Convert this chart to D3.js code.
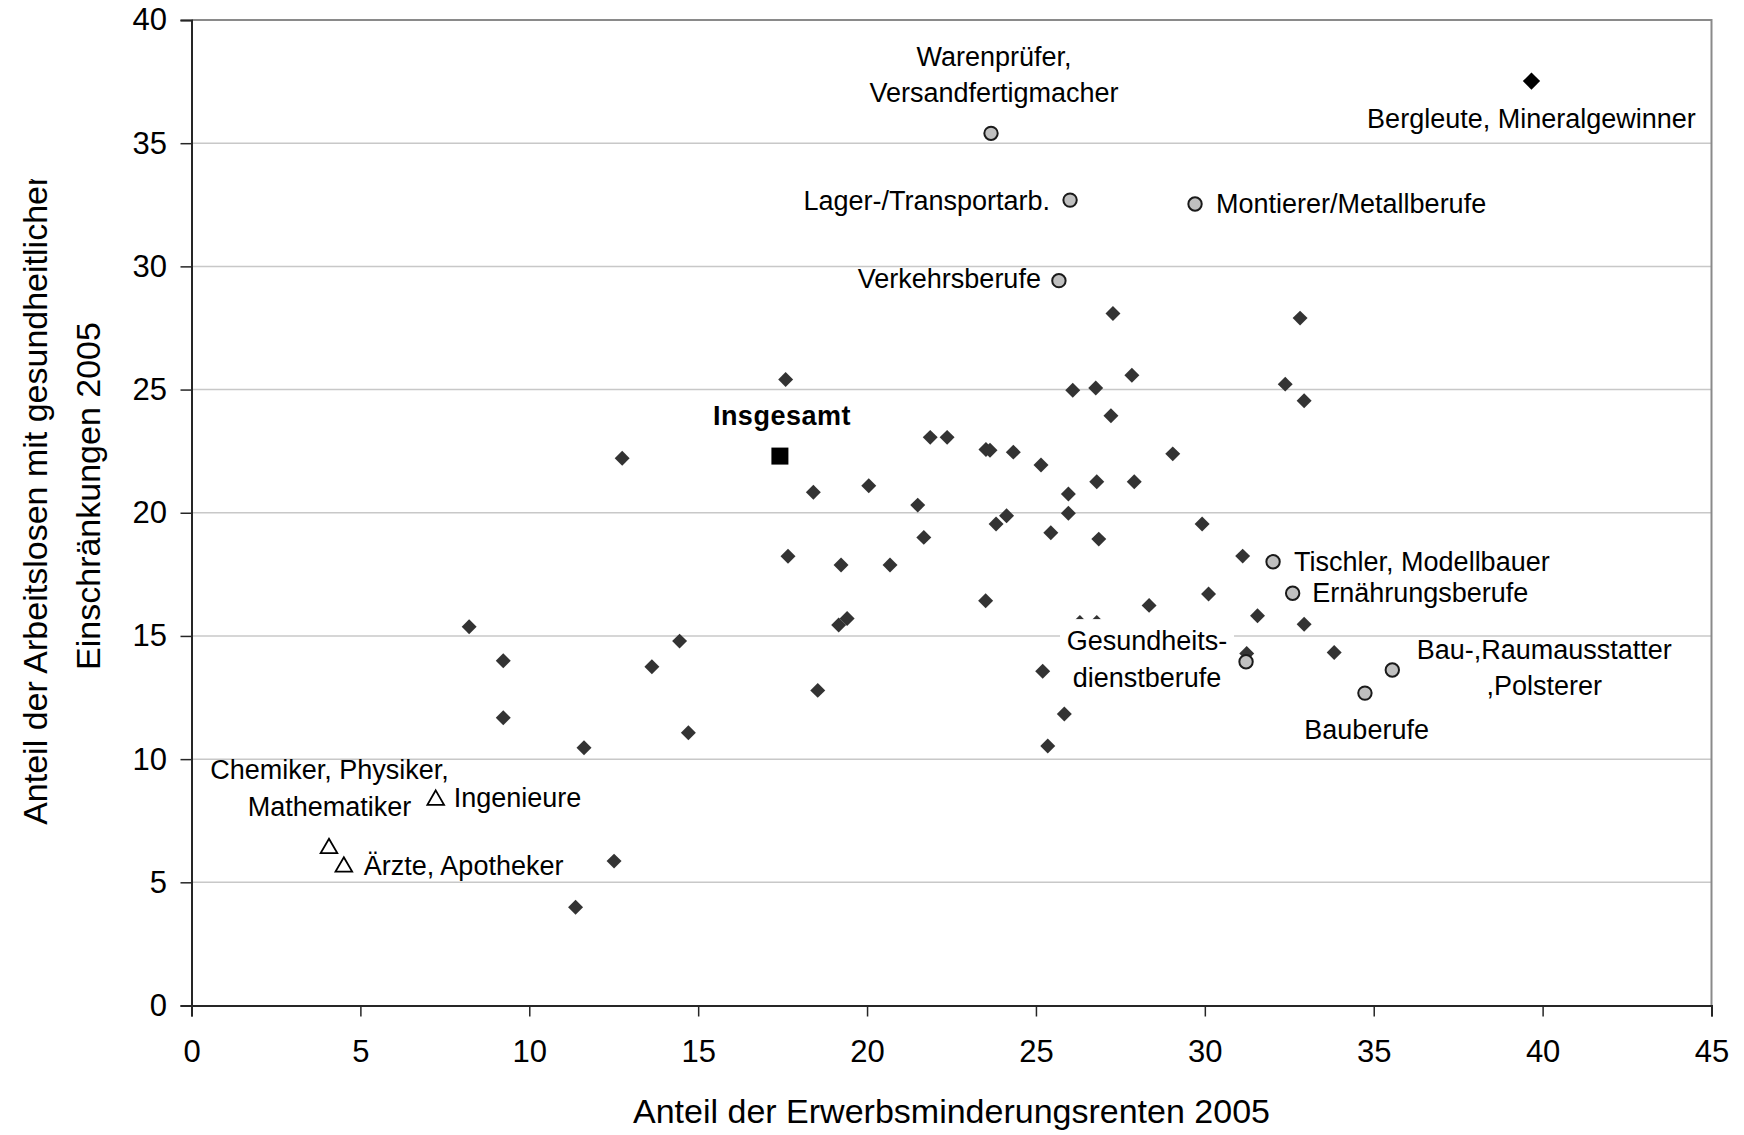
<!DOCTYPE html>
<html>
<head>
<meta charset="utf-8">
<script src="https://cdn.jsdelivr.net/npm/d3@7"></script>
<style>
body { margin: 0; background: #fff; }
text { font-family: "Liberation Sans", Arial, sans-serif; }
</style>
</head>
<body>
<script>
// Berufsgruppen ohne Beschriftung: [Erwerbsminderungsrenten, AL mit gesundh. Einschr.]
var berufe = [
  [8.22,15.37],[9.23,13.99],[9.23,11.68],[11.62,10.46],[11.37,3.99],[12.51,5.86],
  [12.75,22.21],[13.63,13.75],[14.45,14.79],[14.71,11.07],[17.59,25.41],[17.66,18.23],
  [18.41,20.83],[18.54,12.79],[19.16,15.44],[19.41,15.71],[19.23,17.88],[20.05,21.1],
  [20.68,17.88],[21.5,20.31],[21.68,19.0],[21.87,23.06],[22.37,23.06],[23.51,16.43],
  [23.52,22.57],[23.64,22.54],[23.82,19.54],[24.13,19.88],[24.33,22.46],[25.15,21.94],
  [25.44,19.19],[25.2,13.57],[25.35,10.53],[25.84,11.83],[25.96,20.76],[25.96,19.98],
  [26.09,24.97],[26.3,15.55],[26.8,15.55],[26.77,25.06],[26.8,21.26],[26.86,18.93],
  [27.22,23.94],[27.28,28.09],[27.84,25.58],[27.91,21.26],[28.35,16.24],[29.05,22.39],
  [29.92,19.54],[30.11,16.7],[31.12,18.24],[31.24,14.29],[31.56,15.82],[32.38,25.22],
  [32.82,27.9],[32.94,24.55],[32.94,15.47],[33.83,14.33]
];

// hervorgehobene Berufe mit hoher Belastung (Kreise)
var kreisNamen = [
  ["Warenprüfer,", "Versandfertigmacher"], ["Lager-/Transportarb."], ["Montierer/Metallberufe"],
  ["Verkehrsberufe"], ["Tischler, Modellbauer"], ["Ernährungsberufe"],
  ["Gesundheits-", "dienstberufe"], ["Bau-,Raumausstatter", ",Polsterer"], ["Bauberufe"]
];
var kreisX = [23.67, 26.01, 29.71, 25.68, 32.02, 32.6, 31.22, 35.55, 34.74];
var kreisY = [35.4, 32.69, 32.53, 29.42, 18.01, 16.73, 13.95, 13.62, 12.68];

// akademische Berufe (Dreiecke)
var dreieckNamen = [["Chemiker, Physiker,", "Mathematiker"], ["Ingenieure"], ["Ärzte, Apotheker"]];
var dreieckX = [4.07, 7.23, 4.51];
var dreieckY = [6.38, 8.34, 5.63];

var insgesamt = [17.42, 22.3];
var bergleute = [39.67, 37.52];

var xTicks = [0, 5, 10, 15, 20, 25, 30, 35, 40, 45];
var yTicks = [0, 5, 10, 15, 20, 25, 30, 35, 40];

// Beschriftungs-Layout (Pixelversatz zum Punkt)
var kreisLayout = [
  {anchor: "middle", dx: 3, dy: [-67.3, -31.6]},
  {anchor: "end", dx: -20, dy: [10]},
  {anchor: "start", dx: 21, dy: [8.7]},
  {anchor: "end", dx: -18, dy: [7.6]},
  {anchor: "start", dx: 21, dy: [9]},
  {anchor: "start", dx: 19.5, dy: [8.4]},
  {anchor: "middle", dx: -99, dy: [-11.7, 25.3], box: true},
  {anchor: "middle", dx: 152, dy: [-10.7, 25]},
  {anchor: "middle", dx: 1.7, dy: [46]}
];
var dreieckLayout = [
  {anchor: "middle", dx: 0.5, dy: [-69, -32.3]},
  {anchor: "start", dx: 18, dy: [7.3]},
  {anchor: "start", dx: 20, dy: [8.3]}
];

var width = 1744,
    height = 1135;

var svg = d3.select("body").append("svg")
    .attr("width", width)
    .attr("height", height)
    .style("display", "block");

var x = d3.scaleLinear().domain([0, 45]).range([191.5, 1711.5]);
var y = d3.scaleLinear().domain([0, 40]).range([1005.5, 20]);

// Gitterlinien
svg.append("g")
  .selectAll("line")
  .data(yTicks.filter(function(d) { return d > 0 && d < 40; }))
  .enter().append("line")
    .attr("x1", x(0)).attr("x2", x(45))
    .attr("y1", function(d) { return y(d); })
    .attr("y2", function(d) { return y(d); })
    .attr("stroke", "#c8c8c8")
    .attr("stroke-width", 1.5);

// Rahmen oben und rechts
svg.append("path")
  .attr("d", "M" + x(0) + "," + y(40) + "H" + x(45) + "V" + y(0))
  .attr("fill", "none")
  .attr("stroke", "#8a8a8a")
  .attr("stroke-width", 2);

var yAxis = svg.append("g")
  .attr("transform", "translate(" + x(0) + ",0)")
  .call(d3.axisLeft(y).tickValues(yTicks).tickSize(11).tickPadding(13.5));

var xAxis = svg.append("g")
  .attr("transform", "translate(0," + y(0) + ")")
  .call(d3.axisBottom(x).tickValues(xTicks).tickSize(11).tickPadding(23));

[xAxis, yAxis].forEach(function(a) {
  a.select(".domain").attr("stroke", "#262626").attr("stroke-width", 2);
  a.selectAll(".tick line").attr("stroke", "#262626").attr("stroke-width", 1.5);
  a.selectAll(".tick text")
    .attr("fill", "#000")
    .style("font-size", "31px")
    .style("font-family", "'Liberation Sans', Arial, sans-serif");
});

// Achsentitel
svg.append("text")
  .attr("x", (x(0) + x(45)) / 2)
  .attr("y", 1123)
  .attr("text-anchor", "middle")
  .style("font-size", "34px")
  .text("Anteil der Erwerbsminderungsrenten 2005");

svg.append("clipPath").attr("id", "ytitleclip")
  .append("rect").attr("x", 0).attr("y", 179).attr("width", 190).attr("height", 960);

var yTitle = svg.append("g")
  .attr("clip-path", "url(#ytitleclip)")
  .append("text")
  .attr("transform", "translate(0,496) rotate(-90)")
  .attr("text-anchor", "middle")
  .style("font-size", "34px");
yTitle.append("tspan").attr("x", 0).attr("y", 47).text("Anteil der Arbeitslosen mit gesundheitlichen");
yTitle.append("tspan").attr("x", 0).attr("y", 100).text("Einschränkungen 2005");

// Rauten
svg.append("g")
  .selectAll("path")
  .data(berufe)
  .enter().append("path")
    .attr("d", d3.symbol(d3.symbolSquare, 112))
    .attr("transform", function(d) { return "translate(" + x(d[0]) + "," + y(d[1]) + ") rotate(45)"; })
    .attr("fill", "#333");

svg.append("path")
  .attr("d", d3.symbol(d3.symbolSquare, 150))
  .attr("transform", "translate(" + x(bergleute[0]) + "," + y(bergleute[1]) + ") rotate(45)")
  .attr("fill", "#000");

svg.append("path")
  .attr("d", d3.symbol(d3.symbolSquare, 289))
  .attr("transform", "translate(" + x(insgesamt[0]) + "," + y(insgesamt[1]) + ")")
  .attr("fill", "#000");

// Dreiecke
svg.append("g")
  .selectAll("path")
  .data(dreieckX)
  .enter().append("path")
    .attr("d", d3.symbol(d3.symbolTriangle, 120))
    .attr("transform", function(d, i) { return "translate(" + x(d) + "," + y(dreieckY[i]) + ")"; })
    .attr("fill", "#fff")
    .attr("stroke", "#000")
    .attr("stroke-width", 1.8);

// Kreise
svg.append("g")
  .selectAll("circle")
  .data(kreisX)
  .enter().append("circle")
    .attr("cx", function(d) { return x(d); })
    .attr("cy", function(d, i) { return y(kreisY[i]); })
    .attr("r", 6.7)
    .attr("fill", "#c0c0c0")
    .attr("stroke", "#1a1a1a")
    .attr("stroke-width", 2);

function addLabel(px, py, lines, lay) {
  var cx = px + lay.dx;
  if (lay.box) {
    svg.append("rect")
      .attr("x", cx - 87).attr("y", py + lay.dy[0] - 31)
      .attr("width", 174).attr("height", 80)
      .attr("fill", "#fff");
  }
  var t = svg.append("text")
    .attr("text-anchor", lay.anchor)
    .style("font-size", "27px")
    .attr("fill", "#000");
  lines.forEach(function(s, i) {
    t.append("tspan").attr("x", cx).attr("y", py + lay.dy[i]).text(s);
  });
}

kreisNamen.forEach(function(n, i) {
  addLabel(x(kreisX[i]), y(kreisY[i]), n, kreisLayout[i]);
});
dreieckNamen.forEach(function(n, i) {
  addLabel(x(dreieckX[i]), y(dreieckY[i]), n, dreieckLayout[i]);
});

svg.append("text")
  .attr("x", x(bergleute[0]))
  .attr("y", y(bergleute[1]) + 47.3)
  .attr("text-anchor", "middle")
  .style("font-size", "27px")
  .text("Bergleute, Mineralgewinner");

svg.append("text")
  .attr("x", x(insgesamt[0]) + 2)
  .attr("y", y(insgesamt[1]) - 31)
  .attr("text-anchor", "middle")
  .style("font-size", "27px")
  .style("font-weight", "bold")
  .style("letter-spacing", "0.5px")
  .text("Insgesamt");
</script>
</body>
</html>
